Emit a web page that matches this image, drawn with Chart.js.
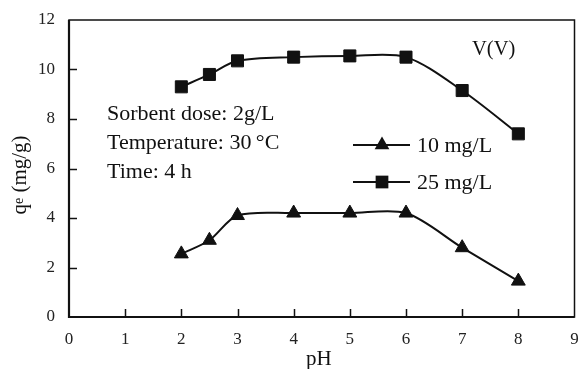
<!DOCTYPE html>
<html>
<head>
<meta charset="utf-8">
<script src="https://cdn.jsdelivr.net/npm/chart.js@4/dist/chart.umd.min.js"></script>
<style>
  html, body { margin: 0; padding: 0; background: #fff; }
</style>
</head>
<body>
<canvas id="phChart" width="584" height="369"></canvas>
<script>
// data
const pH = [2, 2.5, 3, 4, 5, 6, 7, 8];
const q10 = [2.55, 3.1, 4.1, 4.2, 4.2, 4.2, 2.8, 1.45];
const q25 = [9.3, 9.8, 10.35, 10.5, 10.55, 10.5, 9.15, 7.4];
const seriesNames = ["10 mg/L", "25 mg/L"];
const xTicks = [0, 1, 2, 3, 4, 5, 6, 7, 8, 9];
const yTicks = [0, 2, 4, 6, 8, 10, 12];
const notes = ["Sorbent dose: 2g/L", "Temperature: 30\u2009\u00b0C", "Time: 4 h"];
const panelLabel = "V(V)";

const serif = '"Liberation Serif", "Times New Roman", serif';
const ink = "#111";

function toPoints(ys) {
    return pH.map((x, i) => ({ x: x, y: ys[i] }));
}

function marker(ctx, style, r, x, y) {
    ctx.beginPath();
    if (style === "triangle") {
        ctx.moveTo(x, y - r);
        ctx.lineTo(x + r * Math.sin(2 * Math.PI / 3), y - r * Math.cos(2 * Math.PI / 3));
        ctx.lineTo(x + r * Math.sin(4 * Math.PI / 3), y - r * Math.cos(4 * Math.PI / 3));
        ctx.closePath();
    } else {
        let s = r * Math.SQRT1_2;
        ctx.rect(x - s, y - s, 2 * s, 2 * s);
    }
    ctx.fill();
}

// frame, inner ticks, notes, legend, axis titles
const decorations = {
    id: "decorations",
    afterDraw(chart) {
        const ctx = chart.ctx;
        const a = chart.chartArea;
        const xs = chart.scales.x, ys = chart.scales.y;
        ctx.save();
        ctx.strokeStyle = ink;
        ctx.fillStyle = ink;

        // frame
        ctx.lineWidth = 1.5;
        ctx.strokeRect(a.left, a.top, a.right - a.left, a.bottom - a.top);
        ctx.lineWidth = 2.2;
        ctx.beginPath();
        ctx.moveTo(a.left, a.top);
        ctx.lineTo(a.left, a.bottom);
        ctx.lineTo(a.right, a.bottom);
        ctx.stroke();

        // ticks pointing inwards
        ctx.lineWidth = 1.5;
        ctx.beginPath();
        xTicks.slice(1, -1).forEach(v => {
            let px = Math.round(xs.getPixelForValue(v)) + 0.5;
            ctx.moveTo(px, a.bottom);
            ctx.lineTo(px, a.bottom - 8);
        });
        yTicks.slice(1, -1).forEach(v => {
            let py = Math.round(ys.getPixelForValue(v)) + 0.5;
            ctx.moveTo(a.left, py);
            ctx.lineTo(a.left + 8, py);
        });
        ctx.stroke();

        // condition notes
        ctx.font = "22px " + serif;
        ctx.textAlign = "left";
        ctx.textBaseline = "alphabetic";
        notes.forEach((t, i) => ctx.fillText(t, 107, 120 + i * 29));
        ctx.font = "20.5px " + serif;
        ctx.fillText(panelLabel, 472, 55);

        // legend
        chart.data.datasets.forEach((ds, i) => {
            let ly = 145 + i * 37;
            ctx.lineWidth = 2;
            ctx.beginPath();
            ctx.moveTo(353, ly);
            ctx.lineTo(410, ly);
            ctx.stroke();
            marker(ctx, ds.pointStyle, ds.pointRadius + 0.5, 382, ly);
            ctx.font = "22px " + serif;
            ctx.textBaseline = "middle";
            ctx.fillText(ds.label, 417, ly + 1);
        });

        // axis titles
        ctx.textBaseline = "alphabetic";
        ctx.textAlign = "center";
        ctx.font = "21px " + serif;
        ctx.fillText("pH", (a.left + a.right) / 2 - 3, 365);

        ctx.translate(26, 175);
        ctx.rotate(-Math.PI / 2);
        ctx.textAlign = "left";
        ctx.font = "21px " + serif;
        let full = ctx.measureText("q").width;
        ctx.font = "14px " + serif;
        let ew = ctx.measureText("e").width;
        ctx.font = "21px " + serif;
        let rest = " (mg/g)";
        let total = full + ew + ctx.measureText(rest).width;
        let x0 = -total / 2;
        ctx.fillText("q", x0, 0);
        ctx.font = "14px " + serif;
        ctx.fillText("e", x0 + full, -3);
        ctx.font = "21px " + serif;
        ctx.fillText(rest, x0 + full + ew, 0);
        ctx.restore();
    }
};

const lineStyle = {
    borderColor: ink,
    backgroundColor: ink,
    borderWidth: 2,
    pointBorderWidth: 1,
    pointBorderColor: ink,
    pointBackgroundColor: ink,
    tension: 0.3,
    fill: false
};

new Chart(document.getElementById("phChart"), {
    type: "scatter",
    data: {
        datasets: [
            Object.assign({ label: seriesNames[0], data: toPoints(q10), showLine: true, pointStyle: "triangle", pointRadius: 8 }, lineStyle),
            Object.assign({ label: seriesNames[1], data: toPoints(q25), showLine: true, pointStyle: "rect", pointRadius: 8.5 }, lineStyle)
        ]
    },
    options: {
        responsive: false,
        animation: false,
        devicePixelRatio: 1,
        layout: { padding: { top: 20, right: 7, left: 0, bottom: 0 } },
        plugins: { legend: { display: false }, tooltip: { enabled: false } },
        scales: {
            x: {
                type: "linear",
                min: xTicks[0],
                max: xTicks[xTicks.length - 1],
                afterBuildTicks: s => { s.ticks = xTicks.map(v => ({ value: v })); },
                afterFit: s => { s.height = 52; s.paddingLeft = 0; s.paddingRight = 0; },
                grid: { display: false, drawTicks: false },
                border: { display: false },
                ticks: { color: "#222", font: { family: serif, size: 17 }, padding: 12, maxRotation: 0 }
            },
            y: {
                min: yTicks[0],
                max: yTicks[yTicks.length - 1],
                afterBuildTicks: s => { s.ticks = yTicks.map(v => ({ value: v })); },
                afterFit: s => { s.width = 69; s.paddingTop = 0; s.paddingBottom = 0; },
                grid: { display: false, drawTicks: false },
                border: { display: false },
                ticks: { color: "#222", font: { family: serif, size: 17 }, padding: 14 }
            }
        }
    },
    plugins: [decorations]
});
</script>
</body>
</html>
